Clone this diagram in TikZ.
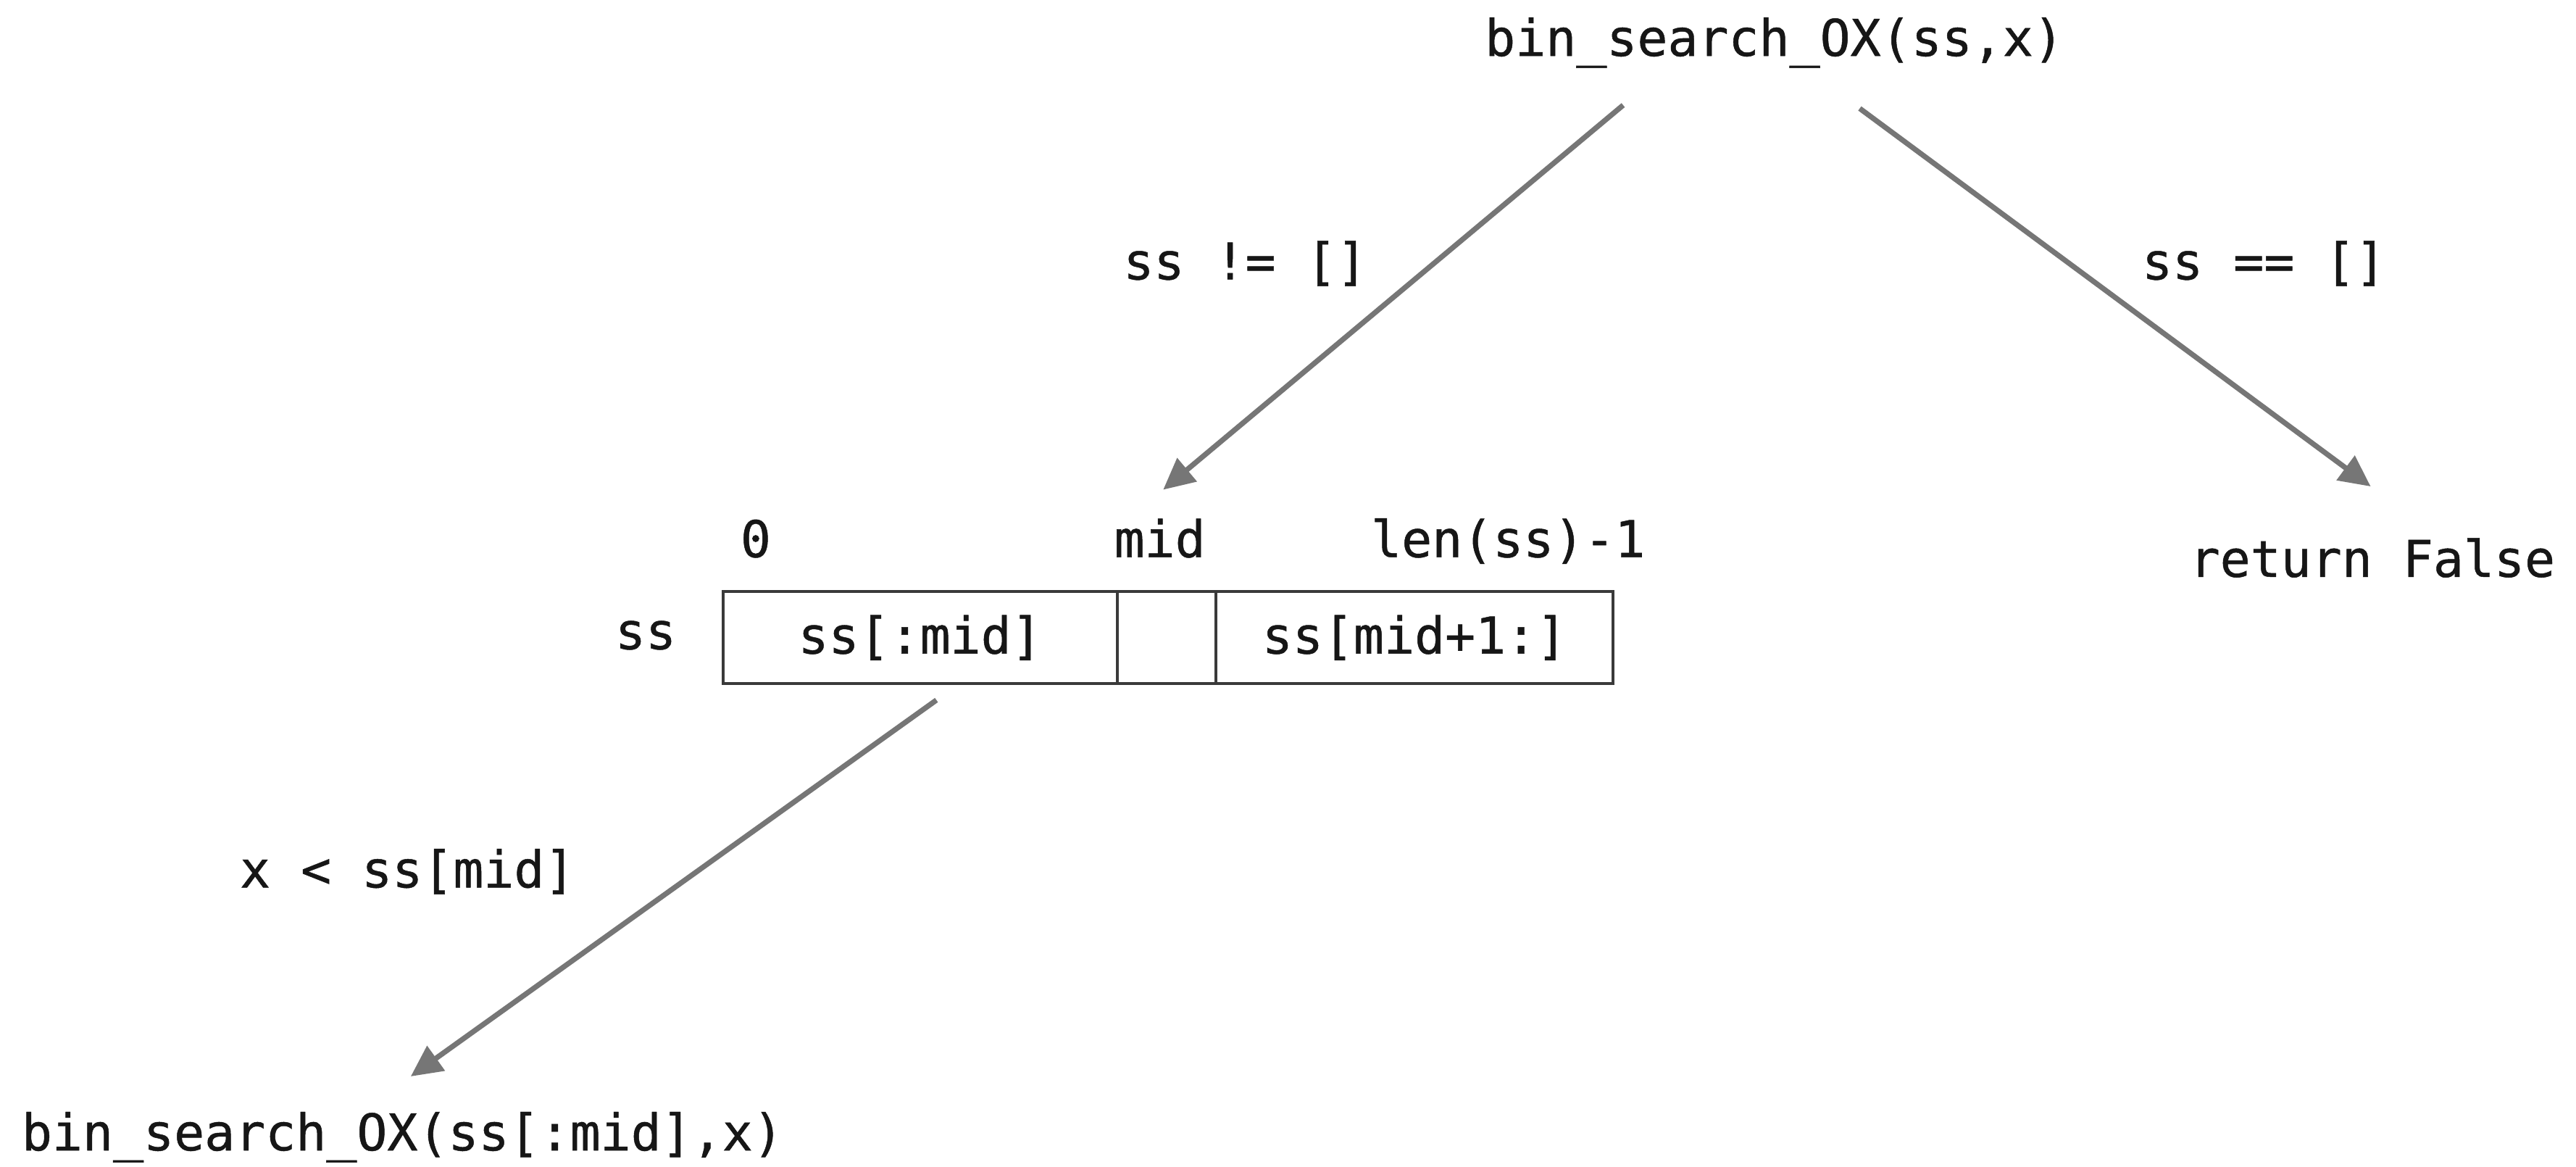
\documentclass[tikz,border=0pt]{standalone}
\usepackage{fontspec}
\newfontfamily\codefont[FakeBold=0.7]{DejaVu Sans Mono}
\usetikzlibrary{arrows.meta}
\definecolor{arrowgray}{HTML}{767676}
\definecolor{boxgray}{HTML}{3A3A3A}
\definecolor{textblack}{HTML}{161616}
\begin{document}
\begin{tikzpicture}[x=0.5pt,y=-0.5pt,
  lbl/.style={font=\codefont\fontsize{15.4pt}{18pt}\selectfont, text=textblack, inner sep=0pt, anchor=base},
  conn/.style={draw=arrowgray, line width=1.6pt, -{Triangle[length=9.5pt,width=9pt]}},
  cell/.style={draw=boxgray, line width=0.9pt, rectangle, inner sep=0pt, minimum height=28pt,
    font=\codefont\fontsize{15.4pt}{18pt}\selectfont, text=textblack}
]
\useasboundingbox (0,0) rectangle (1568,710);
\fill[white] (0,0) rectangle (1568,710);

% text nodes
\node[lbl] (root) at (1080,34) {bin\_search\_OX(ss,x)};
\node[lbl] (condL) at (758,170) {ss != []};
\node[lbl] (condR) at (1378,170) {ss == []};
\node[lbl] (ret) at (1444,351) {return False};
\node[lbl] (idx0) at (460,339) {0};
\node[lbl] (idxmid) at (706,339) {mid};
\node[lbl] (idxlen) at (918,339) {len(ss)-1};
\node[lbl] (ssname) at (393,395) {ss};
\node[lbl] (condX) at (248,540) {x < ss[mid]};
\node[lbl] (rec) at (245,700) {bin\_search\_OX(ss[:mid],x)};

% array cells
\node[cell, minimum width=120pt] (cellL) at (560,388) {ss[:mid]};
\node[cell, minimum width=30pt] (cellM) at (710,388) {};
\node[cell, minimum width=121pt] (cellR) at (861,388) {ss[mid+1:]};

% connector end points
\coordinate (sL) at (988,64);
\coordinate (eL) at (708,298);
\coordinate (sR) at (1132,66);
\coordinate (eR) at (1443,296);
\coordinate (sB) at (570,426);
\coordinate (eB) at (250,655);

\draw[conn] (sL) -- (eL);
\draw[conn] (sR) -- (eR);
\draw[conn] (sB) -- (eB);
\end{tikzpicture}
\end{document}
